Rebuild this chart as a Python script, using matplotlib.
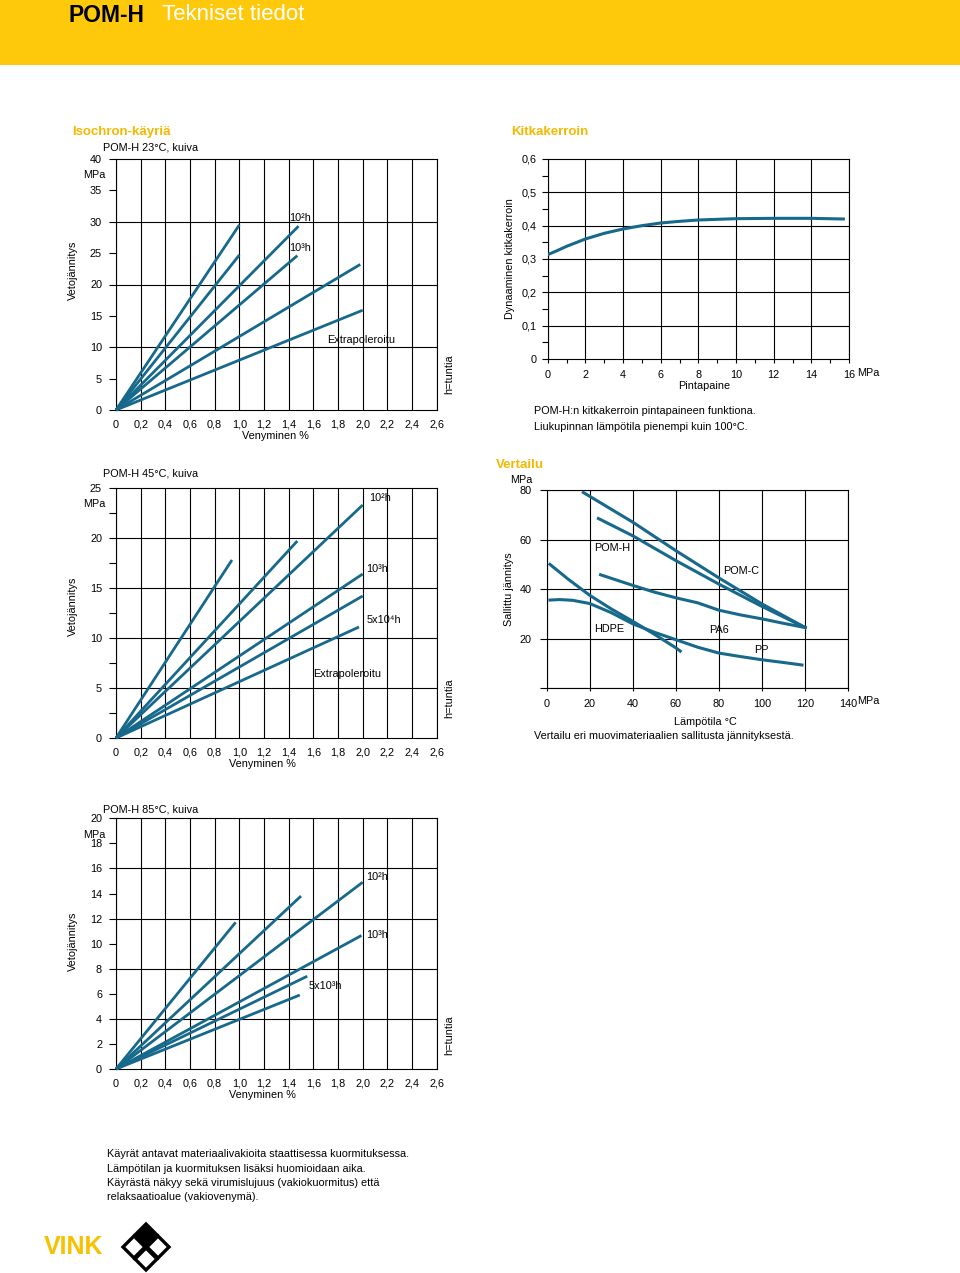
import matplotlib.pyplot as plt
from matplotlib.patches import Rectangle, Polygon

plt.rcParams['font.family'] = ['Liberation Sans', 'DejaVu Sans']
plt.rcParams['font.size'] = 7.8

W, H = 960, 1273
BLUE = '#17698c'
YELLOW = '#f5b800'
FS = 7.8

# ---- data ----
strain_ticks = [0, 0.2, 0.4, 0.6, 0.8, 1.0, 1.2, 1.4, 1.6, 1.8, 2.0, 2.2, 2.4, 2.6]
strain_labels = ['0', '0,2', '0,4', '0,6', '0,8', '1,0', '1,2', '1,4', '1,6', '1,8',
                 '2,0', '2,2', '2,4', '2,6']

# POM-H 23 C, isochrones start at origin and end here
c23_x = [1.0, 1.0, 1.48, 1.47, 1.98, 2.0]
c23_y = [29.5, 24.7, 29.3, 24.6, 23.2, 15.9]
c23_yticks = [0, 5, 10, 15, 20, 25, 30, 35, 40]
c23_ylabels = ['0', '5', '10', '15', '20', '25', '30', '35', '40']
c23_grid = [10, 20, 30]

# POM-H 45 C
c45_x = [0.94, 1.47, 2.0, 2.0, 2.0, 1.97]
c45_y = [17.8, 19.7, 23.3, 16.4, 14.2, 11.1]
c45_yticks = [0, 2.5, 5, 7.5, 10, 12.5, 15, 17.5, 20, 22.5, 25]
c45_ylabels = ['0', '', '5', '', '10', '', '15', '', '20', '', '25']
c45_grid = [5, 10, 15, 20]

# POM-H 85 C
c85_x = [0.97, 1.5, 2.0, 1.99, 1.55, 1.49]
c85_y = [11.7, 13.8, 14.9, 10.65, 7.4, 5.9]
c85_yticks = [0, 2, 4, 6, 8, 10, 12, 14, 16, 18, 20]
c85_ylabels = ['0', '2', '4', '6', '8', '10', '12', '14', '16', '18', '20']
c85_grid = [4, 8, 12, 16]

# friction coefficient vs surface pressure
fric_p = [0, 0.5, 1, 1.5, 2, 3, 4, 5, 6, 7, 8, 9, 10, 12, 14, 15.7]
fric_mu = [0.313, 0.325, 0.338, 0.349, 0.36, 0.377, 0.39, 0.40, 0.408, 0.413,
           0.417, 0.419, 0.421, 0.422, 0.422, 0.42]
fric_xticks = list(range(17))
fric_xlabels = [str(v) if v % 2 == 0 else '' for v in fric_xticks]
fric_yticks = [0, 0.05, 0.1, 0.15, 0.2, 0.25, 0.3, 0.35, 0.4, 0.45, 0.5, 0.55, 0.6]
fric_ylabels = ['0', '', '0,1', '', '0,2', '', '0,3', '', '0,4', '', '0,5', '', '0,6']

# allowed stress vs temperature
temp_ticks = [0, 20, 40, 60, 80, 100, 120, 140]
stress_ticks = [0, 20, 40, 60, 80]
stress_labels = ['', '20', '40', '60', '80']
pomh_t = [17, 40, 60, 80, 100, 120]
pomh_s = [79, 67, 55.5, 44.5, 34, 24.5]
pomc_t = [24, 40, 60, 80, 100, 120]
pomc_s = [68.5, 61.5, 51.5, 42, 33, 24.5]
pa6_t = [25, 40, 50, 60, 70, 80, 90, 100, 110, 120]
pa6_s = [45.8, 41.5, 38.8, 36.5, 34.5, 31.5, 29.6, 28, 26.2, 24.5]
hdpe_t = [1.5, 10, 20, 30, 40, 50, 60, 62]
hdpe_s = [50, 44, 37.5, 32, 27, 21.8, 16.3, 15]
pp_t = [1.5, 6, 12, 20, 30, 40, 50, 60, 70, 80, 90, 100, 110, 118.5]
pp_s = [35.6, 35.8, 35.5, 34.2, 30.5, 26, 22.6, 19.6, 16.6, 14.2, 12.8, 11.5, 10.4, 9.4]

fig = plt.figure(figsize=(W / 100, H / 100), dpi=100)


def px_axes(x0, y0, x1, y1):
    return fig.add_axes([x0 / W, 1 - y1 / H, (x1 - x0) / W, (y1 - y0) / H])


def frame(ax, xgrid, ygrid):
    for v in xgrid:
        ax.axvline(v, color='black', lw=0.8, zorder=1)
    for v in ygrid:
        ax.axhline(v, color='black', lw=0.8, zorder=1)
    for s in ax.spines.values():
        s.set_linewidth(0.8)


def strain_chart(ax, ends_x, ends_y, ymax, yticks, ylabels, grid, notes):
    for ex, ey in zip(ends_x, ends_y):
        ax.plot([0, ex], [0, ey], color=BLUE, lw=2.0, solid_capstyle='butt',
                zorder=3, clip_on=False)
    ax.set_xlim(0, 2.6)
    ax.set_ylim(0, ymax)
    ax.set_xticks(strain_ticks, strain_labels)
    ax.set_yticks(yticks, ylabels)
    ax.tick_params(axis='y', direction='out', length=5, width=0.8, pad=5)
    ax.tick_params(axis='x', length=0, pad=7)
    frame(ax, strain_ticks, grid)
    for txt, x, y in notes:
        ax.text(x, y, txt, ha='left', va='center', fontsize=FS)
    ax.text(-0.032, ymax * 0.935, 'MPa', transform=ax.get_yaxis_transform(),
            ha='right', va='center', fontsize=FS)


# Isochron 23 C
ax1 = px_axes(116, 159, 436.7, 410)
strain_chart(ax1, c23_x, c23_y, 40, c23_yticks, c23_ylabels, c23_grid,
             [('10²h', 1.4, 30.6), ('10³h', 1.4, 25.8), ('Extrapoleroitu', 1.71, 11.2)])

# Isochron 45 C
ax3 = px_axes(116, 488, 436.7, 738)
strain_chart(ax3, c45_x, c45_y, 25, c45_yticks, c45_ylabels, c45_grid,
             [('10²h', 2.05, 24.0), ('10³h', 2.03, 16.9), ('5x10⁴h', 2.03, 11.8),
              ('Extrapoleroitu', 1.6, 6.4)])

# Isochron 85 C
ax5 = px_axes(116, 818.3, 436.7, 1069)
strain_chart(ax5, c85_x, c85_y, 20, c85_yticks, c85_ylabels, c85_grid,
             [('10²h', 2.03, 15.3), ('10³h', 2.03, 10.7), ('5x10³h', 1.56, 6.6)])

for ax, cx in [(ax1, 275), (ax3, 262), (ax5, 262)]:
    ax.set_xlabel('Venyminen %', fontsize=FS)
    ax.xaxis.set_label_coords((cx - 116) / 320.7, -0.085)

# Friction coefficient
ax2 = px_axes(547.7, 159, 849, 359)
ax2.plot(fric_p, fric_mu, color=BLUE, lw=2.2, zorder=3)
ax2.set_xlim(0, 16)
ax2.set_ylim(0, 0.6)
ax2.set_xticks(fric_xticks, fric_xlabels)
ax2.set_yticks(fric_yticks, fric_ylabels)
ax2.tick_params(axis='y', direction='out', length=4, width=0.8, pad=4)
ax2.tick_params(axis='x', direction='out', length=3, width=0.8, pad=5)
frame(ax2, [v for v in fric_xticks if v % 2 == 0], [0.1, 0.2, 0.3, 0.4, 0.5])
ax2.set_xlabel('Pintapaine', fontsize=FS)
ax2.xaxis.set_label_coords((703.7 - 547.7) / 301.3, -0.11)
ax2.set_ylabel('Dynaaminen kitkakerroin', fontsize=FS, labelpad=5)

# Comparison
ax4 = px_axes(546.7, 490, 848.3, 688.3)
for t, s in [(pomh_t, pomh_s), (pomc_t, pomc_s), (pa6_t, pa6_s), (hdpe_t, hdpe_s), (pp_t, pp_s)]:
    ax4.plot(t, s, color=BLUE, lw=2.2, zorder=3)
ax4.set_xlim(0, 140)
ax4.set_ylim(0, 80)
ax4.set_xticks(temp_ticks, [str(v) for v in temp_ticks])
ax4.set_yticks(stress_ticks, stress_labels)
ax4.tick_params(axis='y', direction='out', length=5, width=0.8, pad=6)
ax4.tick_params(axis='x', direction='out', length=2, width=0.8, pad=6)
frame(ax4, temp_ticks, stress_ticks)
for txt, x, y in [('POM-H', 22, 56.5), ('POM-C', 82, 47.3), ('HDPE', 22, 23.8),
                  ('PA6', 75.5, 23.5), ('PP', 96.5, 15.4)]:
    ax4.text(x, y, txt, ha='left', va='center', fontsize=FS)
ax4.set_xlabel('Lämpötila °C', fontsize=FS)
ax4.xaxis.set_label_coords((705.7 - 546.7) / 301.6, -0.145)
ax4.set_ylabel('Sallittu jännitys', fontsize=FS, labelpad=4)

# ---- page decoration, texts in pixel coordinates ----
ov = fig.add_axes([0, 0, 1, 1])
ov.set_xlim(0, W)
ov.set_ylim(H, 0)
ov.axis('off')

ov.add_patch(Rectangle((0, 0), W, 65, color='#ffc90b', lw=0))
ov.text(68, 15, 'POM-H', fontsize=16.5, fontweight='bold', va='center', ha='left')
ov.text(162, 15, 'Tekniset tiedot', fontsize=16, color='white', va='center', ha='left')

ov.text(72, 132, 'Isochron-käyriä', color=YELLOW, fontsize=9.5, fontweight='bold', va='center')
ov.text(511, 132, 'Kitkakerroin', color=YELLOW, fontsize=9.5, fontweight='bold', va='center')
ov.text(496, 465, 'Vertailu', color=YELLOW, fontsize=9.5, fontweight='bold', va='center')

ov.text(103, 148, 'POM-H 23°C, kuiva', va='center')
ov.text(103, 474, 'POM-H 45°C, kuiva', va='center')
ov.text(103, 809, 'POM-H 85°C, kuiva', va='center')

for yc in [270, 606, 941]:
    ov.text(73, yc, 'Vetojännitys', rotation=90, ha='center', va='center')
for yc in [374, 698, 1035]:
    ov.text(449, yc, 'h=tuntia', rotation=90, ha='center', va='center')

ov.text(857, 373, 'MPa', va='center')
ov.text(857, 701, 'MPa', va='center')
ov.text(521, 480, 'MPa', va='center', ha='center')

ov.text(534, 411, 'POM-H:n kitkakerroin pintapaineen funktiona.', va='center')
ov.text(534, 427, 'Liukupinnan lämpötila pienempi kuin 100°C.', va='center')
ov.text(534, 736, 'Vertailu eri muovimateriaalien sallitusta jännityksestä.', va='center')

notes = ['Käyrät antavat materiaalivakioita staattisessa kuormituksessa.',
         'Lämpötilan ja kuormituksen lisäksi huomioidaan aika.',
         'Käyrästä näkyy sekä virumislujuus (vakiokuormitus) että',
         'relaksaatioalue (vakiovenymä).']
for i, line in enumerate(notes):
    ov.text(107, 1154 + i * 14.5, line, va='center')

# logo
ov.text(44, 1247, 'VINK', color='#f7c100', fontsize=18, fontweight='black',
        va='center', ha='left')
cx, cy, r = 146, 1247, 12
for dx, dy, fill in [(0, -r, True), (-r, 0, False), (r, 0, False), (0, r, False)]:
    x0, y0 = cx + dx, cy + dy
    pts = [(x0, y0 - r + 1), (x0 + r - 1, y0), (x0, y0 + r - 1), (x0 - r + 1, y0)]
    ov.add_patch(Polygon(pts, closed=True, facecolor='black' if fill else 'white',
                         edgecolor='black', lw=2.4))

fig.savefig('out.png', dpi=100)
